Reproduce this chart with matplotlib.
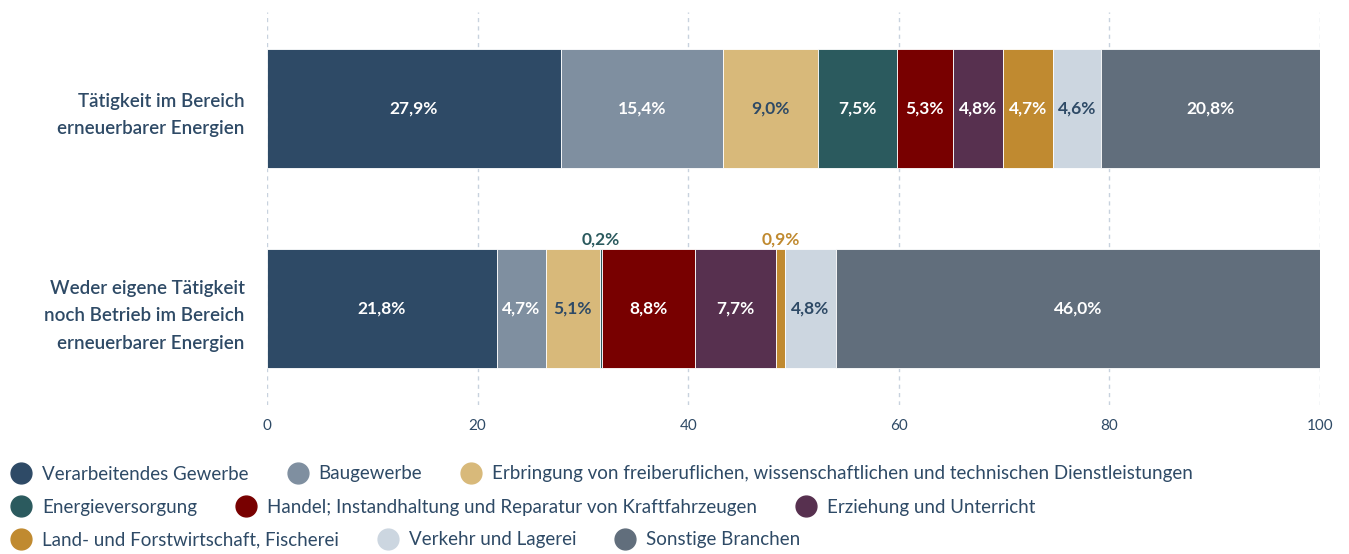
import matplotlib
matplotlib.use("Agg")
import matplotlib.pyplot as plt
from matplotlib.lines import Line2D

plt.rcParams['font.family'] = ['Lato', 'DejaVu Sans']

categories = ["Tätigkeit im Bereich\nerneuerbarer Energien",
              "Weder eigene Tätigkeit\nnoch Betrieb im Bereich\nerneuerbarer Energien"]
series_names = ["Verarbeitendes Gewerbe", "Baugewerbe",
                "Erbringung von freiberuflichen, wissenschaftlichen und technischen Dienstleistungen",
                "Energieversorgung", "Handel; Instandhaltung und Reparatur von Kraftfahrzeugen",
                "Erziehung und Unterricht", "Land- und Forstwirtschaft, Fischerei",
                "Verkehr und Lagerei", "Sonstige Branchen"]
values_top = [27.9, 15.4, 9.0, 7.5, 5.3, 4.8, 4.7, 4.6, 20.8]
values_bottom = [21.8, 4.7, 5.1, 0.2, 8.8, 7.7, 0.9, 4.8, 46.0]
colors = ["#2e4a66", "#7f8fa0", "#d8b97a", "#2b5a5e", "#780000",
          "#57304f", "#c08a30", "#ccd6e0", "#616e7c"]
light = {2, 7}
xticks = [0, 20, 40, 60, 80, 100]
text_col = "#2e4a66"

W, H = 1349, 554
fig = plt.figure(figsize=(W / 100, H / 100), dpi=100)
ax = fig.add_axes([267 / W, 1 - 405 / H, (1320 - 267) / W, (405 - 12) / H])

data = [values_top, values_bottom]
ypos = [0, 1]
bar_h = 0.592
for yi, vals in zip(ypos, data):
    left = 0
    for i, v in enumerate(vals):
        ax.barh(yi, v, left=left, height=bar_h, color=colors[i],
                edgecolor="white", linewidth=0.6, zorder=3)
        lab = f"{v:.1f}%".replace(".", ",")
        cx = left + v / 2
        if v < 1:
            ax.text(cx, yi - bar_h / 2 - 0.012, lab, ha="center", va="bottom",
                    color=colors[i], fontsize=12.5, fontweight="bold", zorder=4)
        else:
            ax.text(cx, yi, lab, ha="center", va="center",
                    color=text_col if i in light else "white",
                    fontsize=12.5, fontweight="bold", zorder=4)
        left += v

ax.set_xlim(0, 100)
ax.set_ylim(1.478, -0.478)
ax.set_xticks(xticks)
ax.set_xticklabels([str(t) for t in xticks], color=text_col, fontsize=11)
ax.tick_params(axis="x", length=0, pad=10)
ax.set_yticks(ypos)
ax.set_yticklabels(categories, color=text_col, fontsize=13.5, fontweight="semibold",
                   linespacing=1.75)
ax.tick_params(axis="y", length=0, pad=16)
for s in ax.spines.values():
    s.set_visible(False)
ax.grid(axis="x", color="#c8d2de", linestyle=(0, (3, 3)), linewidth=1, zorder=0)
ax.grid(axis="y", visible=False)

rows = [[0, 1, 2], [3, 4, 5], [6, 7, 8]]
row_y = [474, 507, 540]
for r, yy in zip(rows, row_y):
    handles = [Line2D([0], [0], marker="o", linestyle="none", markersize=15,
                      markerfacecolor=colors[i], markeredgecolor=colors[i]) for i in r]
    leg = fig.legend(handles, [series_names[i] for i in r], ncol=3,
                     loc="center left", bbox_to_anchor=(11 / W, 1 - yy / H),
                     frameon=False, fontsize=13.5, handletextpad=0.57,
                     columnspacing=2.05, handlelength=1.1, borderpad=0, borderaxespad=0)
    for t in leg.get_texts():
        t.set_color(text_col)

fig.savefig("out.png", dpi=100)
